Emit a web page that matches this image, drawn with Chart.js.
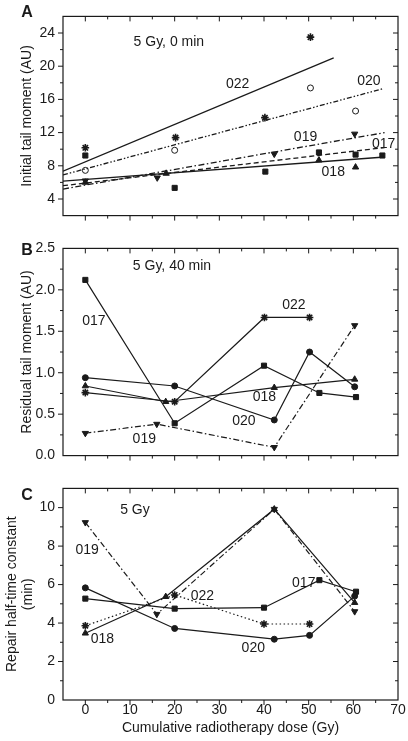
<!DOCTYPE html>
<html>
<head>
<meta charset="utf-8">
<script src="https://cdn.jsdelivr.net/npm/chart.js@4.4.0/dist/chart.umd.min.js"></script>
<style>
  html, body { margin: 0; padding: 0; background: #fff; }
  #wrap { position: relative; width: 408px; height: 741px; }
  canvas { position: absolute; left: 0; }
</style>
</head>
<body>
<div id="wrap">
  <canvas id="panelA" width="408" height="232" style="top:0px"></canvas>
  <canvas id="panelB" width="408" height="240" style="top:232px"></canvas>
  <canvas id="panelC" width="408" height="269" style="top:472px"></canvas>
</div>
<script>
// Shared x axis (cumulative dose, Gy)
const doseTicks = [0, 10, 20, 30, 40, 50, 60, 70];

// Panel A - initial tail moment, 5 Gy, 0 min  ([dose, value])
const yTicksA = [4, 8, 12, 16, 20, 24];
const a017 = [[0, 9.24], [20, 5.34], [40.3, 7.30], [52.3, 9.61], [60.5, 9.35], [66.5, 9.24]];
const a018 = [[0, 6.0], [18.1, 7.08], [52.3, 8.68], [60.5, 7.83]];
const a019 = [[0, 6.2], [16.1, 6.56], [42.3, 9.42], [60.3, 11.84]];
const a020 = [[0, 7.45], [20, 9.87], [50.4, 17.38], [60.5, 14.6]];
const a022 = [[0, 10.17], [20.2, 11.4], [40.2, 13.8], [50.4, 23.5]];
// regression lines (end points)
const fit017 = [[-5, 5.6], [67, 10.2]];
const fit018 = [[-5, 6.15], [67, 9.06]];
const fit019 = [[-5, 5.2], [67, 12.0]];
const fit020 = [[-5, 6.9], [66.7, 17.3]];
const fit022 = [[-5, 7.35], [55.6, 21.0]];

// Panel B - residual tail moment, 5 Gy, 40 min
const yTicksB = [0, 0.5, 1.0, 1.5, 2.0, 2.5];
const b017 = [[0, 2.12], [20, 0.39], [40, 1.085], [52.4, 0.756], [60.6, 0.706]];
const b018 = [[0, 0.84], [18, 0.65], [42.3, 0.82], [60.3, 0.92]];
const b019 = [[0, 0.27], [16, 0.38], [42.3, 0.10], [60.3, 1.57]];
const b020 = [[0, 0.94], [20, 0.84], [42.3, 0.43], [50.2, 1.25], [60.3, 0.83]];
const b022 = [[0, 0.76], [20, 0.65], [40.1, 1.667], [50.2, 1.667]];

// Panel C - repair half-time constant, 5 Gy
const yTicksC = [0, 2, 4, 6, 8, 10];
const c017 = [[0, 5.27], [20, 4.75], [40, 4.80], [52.4, 6.23], [60.6, 5.63]];
const c018 = [[0, 3.47], [18, 5.37], [42.3, 9.92], [60.3, 5.06]];
const c019 = [[0, 9.23], [16, 4.46], [42.3, 9.92], [60.3, 4.60]];
const c020 = [[0, 5.83], [20, 3.72], [42.3, 3.16], [50.2, 3.36], [60.3, 5.40]];
const c022 = [[0, 3.86], [20, 5.46], [40, 3.95], [50.2, 3.95]];

const FONT = "'Liberation Sans', Arial, Helvetica, sans-serif";
const INK = '#1a1a1a';

// dash patterns
const SOLID = [];
const DASHED = [5, 3];
const DASH_DOT = [6, 2.5, 1.5, 2.5];
const DASH_DOT_DOT = [5, 2, 1.5, 2, 1.5, 2];
const DOTTED = [1.5, 2.5];

// marker styles per patient
const markers = {
  '017': { pointStyle: 'rect', pointRadius: 3.6, pointRotation: 0, bw: 1 },
  '018': { pointStyle: 'triangle', pointRadius: 3.6, pointRotation: 0, bw: 1 },
  '019': { pointStyle: 'triangle', pointRadius: 3.6, pointRotation: 180, bw: 1 },
  '020': { pointStyle: 'circle', pointRadius: 3, pointRotation: 0, bw: 1 },
  '022': { pointStyle: 'star', pointRadius: 3.8, pointRotation: 0, bw: 1.6 }
};

function pts(arr) { return arr.map(p => ({ x: p[0], y: p[1] })); }

function series(id, arr, dash, showLine, hollow) {
  const m = markers[id];
  return {
    data: pts(arr),
    showLine: showLine,
    borderColor: INK,
    borderWidth: 1.2,
    borderDash: dash,
    pointStyle: m.pointStyle,
    pointRadius: m.pointRadius,
    pointRotation: m.pointRotation,
    pointBackgroundColor: hollow ? '#fff' : INK,
    pointBorderColor: INK,
    pointBorderWidth: m.bw,
    clip: false
  };
}

function fitLine(arr, dash) {
  return {
    data: pts(arr),
    showLine: true,
    borderColor: INK,
    borderWidth: 1.3,
    borderDash: dash,
    pointRadius: 0
  };
}

// Frame, inward/outward ticks, and text labels
const frameTicks = {
  id: 'frameTicks',
  afterDraw(chart, args, o) {
    const { ctx, chartArea: a } = chart;
    const xs = chart.scales.x, ys = chart.scales.y;
    ctx.save();
    ctx.strokeStyle = INK;
    ctx.lineWidth = 1.2;
    ctx.setLineDash([]);
    ctx.strokeRect(a.left, a.top, a.right - a.left, a.bottom - a.top);

    const minors = (major, lo, hi) => {
      const step = major[1] - major[0];
      const out = [];
      major.forEach(v => {
        [v - step / 2, v + step / 2].forEach(m => {
          if (m > lo + 1e-9 && m < hi - 1e-9 && out.indexOf(m) < 0) out.push(m);
        });
      });
      return out;
    };
    const line = (x1, y1, x2, y2) => { ctx.beginPath(); ctx.moveTo(x1, y1); ctx.lineTo(x2, y2); ctx.stroke(); };
    ctx.lineWidth = 1;
    const drawX = (vals, len) => vals.forEach(v => {
      const px = xs.getPixelForValue(v);
      if (px <= a.left + 0.5 || px >= a.right - 0.5) return;
      line(px, a.bottom, px, a.bottom + len);
      line(px, a.top, px, a.top + len);
    });
    const drawY = (vals, len) => vals.forEach(v => {
      const py = ys.getPixelForValue(v);
      if (py <= a.top + 0.5 || py >= a.bottom - 0.5) return;
      line(a.left, py, a.left - len, py);
      line(a.right, py, a.right - len, py);
    });
    drawX(doseTicks, 5);
    drawX(minors(doseTicks, xs.min, xs.max), 3);
    drawY(o.yTicks, 5);
    drawY(minors(o.yTicks, ys.min, ys.max), 3);

    // annotations
    ctx.fillStyle = INK;
    ctx.textAlign = 'center';
    ctx.textBaseline = 'middle';
    ctx.font = '14px ' + FONT;
    (o.notes || []).forEach(n => {
      ctx.fillText(n.t, xs.getPixelForValue(n.x), ys.getPixelForValue(n.y));
    });

    // panel letter
    ctx.font = 'bold 16px ' + FONT;
    ctx.fillText(o.letter, 27, o.letterY);

    // y title (rotated)
    ctx.font = '14px ' + FONT;
    const midY = (a.top + a.bottom) / 2;
    o.yTitle.forEach((t, i) => {
      ctx.save();
      ctx.translate(o.yTitleX[i], midY);
      ctx.rotate(-Math.PI / 2);
      ctx.fillText(t, 0, 0);
      ctx.restore();
    });

    // x title
    if (o.xTitle) {
      ctx.fillText(o.xTitle, (a.left + a.right) / 2, o.xTitleY);
    }
    ctx.restore();
  }
};

function options(cfg) {
  return {
    responsive: false,
    animation: false,
    events: [],
    layout: { padding: { top: cfg.padTop, right: 10, left: 0, bottom: 0 } },
    plugins: {
      legend: { display: false },
      tooltip: { enabled: false },
      frameTicks: cfg.frame
    },
    scales: {
      x: {
        type: 'linear', min: -5, max: 70,
        afterBuildTicks: s => { s.ticks = doseTicks.map(v => ({ value: v })); },
        afterFit: s => { s.height = cfg.xHeight; },
        grid: { display: false, drawTicks: false },
        border: { display: false },
        ticks: {
          display: cfg.showX, padding: 2, color: INK, maxRotation: 0, autoSkip: false,
          font: { size: 14, family: FONT }
        }
      },
      y: {
        type: 'linear', min: cfg.yMin, max: cfg.yMax,
        afterBuildTicks: s => { s.ticks = cfg.yTicks.map(v => ({ value: v })); },
        afterFit: s => { s.width = 63; },
        grid: { display: false, drawTicks: false },
        border: { display: false },
        ticks: {
          padding: 8, color: INK, autoSkip: false,
          font: { size: 14, family: FONT },
          callback: v => v.toFixed(cfg.digits)
        }
      }
    }
  };
}

Chart.register(frameTicks);

// Panel A
new Chart('panelA', {
  type: 'scatter',
  data: {
    datasets: [
      fitLine(fit022, SOLID),
      fitLine(fit020, DASH_DOT_DOT),
      fitLine(fit019, DASH_DOT),
      fitLine(fit017, DASHED),
      fitLine(fit018, SOLID),
      series('017', a017, SOLID, false),
      series('018', a018, SOLID, false),
      series('019', a019, SOLID, false),
      series('020', a020, SOLID, false, true),
      series('022', a022, SOLID, false)
    ]
  },
  options: options({
    padTop: 3, xHeight: 13, showX: false, yMin: 2, yMax: 26, yTicks: yTicksA, digits: 0,
    frame: {
      yTicks: yTicksA, letter: 'A', letterY: 13,
      yTitle: ['Initial tail moment (AU)'], yTitleX: [27],
      notes: [
        { t: '5 Gy, 0 min', x: 18.7, y: 22.9 },
        { t: '022', x: 34.1, y: 17.86 },
        { t: '020', x: 63.5, y: 18.14 },
        { t: '019', x: 49.3, y: 11.4 },
        { t: '017', x: 66.8, y: 10.6 },
        { t: '018', x: 55.5, y: 7.27 }
      ]
    }
  })
});

// Panel B
new Chart('panelB', {
  type: 'scatter',
  data: {
    datasets: [
      series('017', b017, SOLID, true),
      series('018', b018, SOLID, true),
      series('019', b019, DASH_DOT, true),
      series('020', b020, SOLID, true),
      series('022', b022, SOLID, true)
    ]
  },
  options: options({
    padTop: 13, xHeight: 12, showX: false, yMin: 0, yMax: 2.5, yTicks: yTicksB, digits: 1,
    frame: {
      yTicks: yTicksB, letter: 'B', letterY: 19,
      yTitle: ['Residual tail moment (AU)'], yTitleX: [27],
      notes: [
        { t: '5 Gy, 40 min', x: 19.4, y: 2.28 },
        { t: '017', x: 1.9, y: 1.62 },
        { t: '019', x: 13.2, y: 0.20 },
        { t: '022', x: 46.7, y: 1.81 },
        { t: '018', x: 40.1, y: 0.71 },
        { t: '020', x: 35.5, y: 0.42 }
      ]
    }
  })
});

// Panel C
new Chart('panelC', {
  type: 'scatter',
  data: {
    datasets: [
      series('017', c017, SOLID, true),
      series('018', c018, SOLID, true),
      series('019', c019, DASH_DOT, true),
      series('020', c020, SOLID, true),
      series('022', c022, DOTTED, true)
    ]
  },
  options: options({
    padTop: 13, xHeight: 41, showX: true, yMin: 0, yMax: 11, yTicks: yTicksC, digits: 0,
    frame: {
      yTicks: yTicksC, letter: 'C', letterY: 24,
      yTitle: ['Repair half-time constant', '(min)'], yTitleX: [12, 28],
      xTitle: 'Cumulative radiotherapy dose (Gy)', xTitleY: 256,
      notes: [
        { t: '5 Gy', x: 11.1, y: 9.86 },
        { t: '019', x: 0.4, y: 7.8 },
        { t: '018', x: 3.8, y: 3.17 },
        { t: '022', x: 26.2, y: 5.4 },
        { t: '017', x: 48.9, y: 6.1 },
        { t: '020', x: 37.6, y: 2.7 }
      ]
    }
  })
});
</script>
</body>
</html>
